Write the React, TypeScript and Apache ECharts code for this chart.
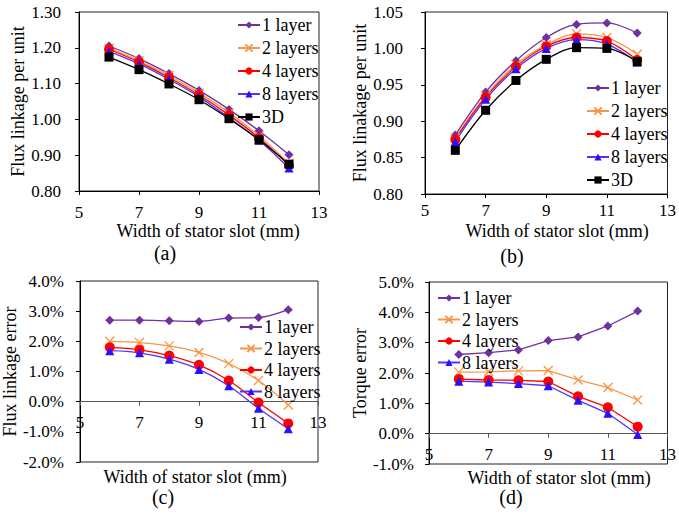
import React, { useEffect, useRef } from "react";
import * as echarts from "echarts";

const widths = [6, 7, 8, 9, 10, 11, 12];
const xTicks = [5, 7, 9, 11, 13];

// (a) flux linkage per unit, panel a
const a1Layer = [1.205, 1.170, 1.128, 1.081, 1.028, 0.968, 0.901];
const a2Layers = [1.199, 1.164, 1.122, 1.074, 1.019, 0.954, 0.877];
const a4Layers = [1.196, 1.160, 1.117, 1.068, 1.012, 0.948, 0.872];
const a8Layers = [1.190, 1.155, 1.112, 1.063, 1.005, 0.942, 0.864];
const a3D = [1.174, 1.139, 1.099, 1.055, 1.002, 0.943, 0.875];

// (b) flux linkage per unit, panel b
const b1Layer = [0.881, 0.940, 0.983, 1.015, 1.033, 1.035, 1.021];
const b2Layers = [0.877, 0.935, 0.978, 1.005, 1.020, 1.015, 0.992];
const b4Layers = [0.875, 0.933, 0.975, 1.003, 1.015, 1.010, 0.984];
const b8Layers = [0.872, 0.930, 0.972, 1.000, 1.012, 1.006, 0.981];
const b3D = [0.860, 0.915, 0.956, 0.985, 1.001, 1.000, 0.982];

// (c) flux linkage error (%)
const c1Layer = [2.70, 2.70, 2.68, 2.66, 2.77, 2.79, 3.05];
const c2Layers = [2.00, 1.96, 1.85, 1.63, 1.26, 0.70, -0.11];
const c4Layers = [1.80, 1.72, 1.53, 1.22, 0.70, -0.03, -0.72];
const c8Layers = [1.69, 1.62, 1.41, 1.07, 0.53, -0.22, -0.90];

// (d) torque error (%)
const d1Layer = [2.61, 2.67, 2.76, 3.07, 3.19, 3.55, 4.04];
const d2Layers = [2.03, 2.04, 2.07, 2.08, 1.77, 1.52, 1.11];
const d4Layers = [1.80, 1.77, 1.76, 1.72, 1.23, 0.87, 0.23];
const d8Layers = [1.73, 1.70, 1.65, 1.58, 1.10, 0.67, -0.03];

const seriesNames = ["1 layer", "2 layers", "4 layers", "8 layers", "3D"];
const panelCaptions = ["(a)", "(b)", "(c)", "(d)"];
const xTitle = "Width of stator slot (mm)";
const yTitles = ["Flux linkage per unit", "Flux linakage per unit", "Flux linkage error", "Torque error"];

const FONT = "'Liberation Serif', 'Times New Roman', 'DejaVu Serif', serif";

const styles: Record<string, any> = {
  "1 layer": { color: "#7030A0", line: "#7030A0", symbol: "diamond", size: 9 },
  "2 layers": { color: "#F79646", line: "#F79646", symbol: "path://M0,0L10,10M10,0L0,10", size: 9, stroke: true },
  "4 layers": { color: "#FF0000", line: "#FF0000", symbol: "circle", size: 10 },
  "8 layers": { color: "#2A10FF", line: "#4F35F5", symbol: "triangle", size: 9 },
  "3D": { color: "#000000", line: "#000000", symbol: "rect", size: 9 },
};

function makeSeries(name: string, values: number[], idx: number, smooth: boolean) {
  const s = styles[name];
  return {
    type: "line",
    name,
    xAxisIndex: idx,
    yAxisIndex: idx,
    data: widths.map((w, i) => [w, values[i]]),
    smooth: smooth ? 0.35 : false,
    symbol: s.symbol,
    symbolSize: s.size,
    showSymbol: true,
    lineStyle: { color: s.line, width: 1.3 },
    itemStyle: s.stroke
      ? { color: s.color, borderColor: s.color, borderWidth: 1.3 }
      : { color: s.color, borderWidth: 0 },
    z: 3,
  };
}

const grids = [
  { left: 79, top: 12, width: 240, height: 179 },
  { left: 425, top: 12, width: 247, height: 182 },
  { left: 79, top: 281, width: 239, height: 181 },
  { left: 429, top: 282, width: 240, height: 182 },
];

const xLabelMargins = [13, 8, 12, 12];

const yRanges = [
  { min: 0.8, max: 1.3, interval: 0.1, fmt: (v: number) => v.toFixed(2), margin: 18, gap: 50 },
  { min: 0.8, max: 1.05, interval: 0.05, fmt: (v: number) => v.toFixed(2), margin: 22, gap: 54 },
  { min: -2, max: 4, interval: 1, fmt: (v: number) => v.toFixed(1) + "%", margin: 16, gap: 54 },
  { min: -1, max: 5, interval: 1, fmt: (v: number) => v.toFixed(1) + "%", margin: 15, gap: 57 },
];

const legendPos = [
  { left: 237, top: 16, gap: 5, names: seriesNames },
  { left: 586, top: 79, gap: 5, names: seriesNames },
  { left: 239, top: 318, gap: 3.5, names: seriesNames.slice(0, 4) },
  { left: 437, top: 289, gap: 3.5, names: seriesNames.slice(0, 4) },
];

const xTitlePos = [
  [208, 231],
  [557, 231],
  [195, 477],
  [559, 478],
];
const captionPos = [
  [165, 253],
  [512, 256],
  [163, 497],
  [511, 497],
];

export default function App() {
  const ref = useRef<HTMLDivElement>(null);
  useEffect(() => {
    if (!ref.current) return;
    const chart = echarts.init(ref.current, null, { renderer: "svg" });
    const series = [
      makeSeries("1 layer", a1Layer, 0, true),
      makeSeries("2 layers", a2Layers, 0, true),
      makeSeries("4 layers", a4Layers, 0, true),
      makeSeries("8 layers", a8Layers, 0, true),
      makeSeries("3D", a3D, 0, true),
      makeSeries("1 layer", b1Layer, 1, true),
      makeSeries("2 layers", b2Layers, 1, true),
      makeSeries("4 layers", b4Layers, 1, true),
      makeSeries("8 layers", b8Layers, 1, true),
      makeSeries("3D", b3D, 1, true),
      makeSeries("1 layer", c1Layer, 2, true),
      makeSeries("2 layers", c2Layers, 2, true),
      makeSeries("4 layers", c4Layers, 2, true),
      makeSeries("8 layers", c8Layers, 2, true),
      makeSeries("1 layer", d1Layer, 3, false),
      makeSeries("2 layers", d2Layers, 3, false),
      makeSeries("4 layers", d4Layers, 3, false),
      makeSeries("8 layers", d8Layers, 3, false),
    ];
    // For panels whose y range spans zero, the x axis (line, ticks, labels) sits on y = 0
    const zeroOffset = (i: number) => {
      const r = yRanges[i];
      if (r.min >= 0) return 0;
      return -grids[i].height * ((0 - r.min) / (r.max - r.min));
    };
    const option: any = {
      animation: false,
      backgroundColor: "#ffffff",
      textStyle: { fontFamily: FONT },
      grid: grids.map((g) => ({ ...g, show: true, borderColor: "#222", borderWidth: 1, backgroundColor: "transparent" })),
      xAxis: grids.map((_, i) => ({
        type: "value",
        gridIndex: i,
        position: "bottom",
        offset: zeroOffset(i),
        min: xTicks[0],
        max: xTicks[xTicks.length - 1],
        interval: 2,
        splitLine: { show: false },
        axisLine: { onZero: false, lineStyle: { color: i >= 2 ? "#555" : "#000", width: 1 } },
        axisTick: { show: true, length: 4, inside: false, lineStyle: { color: i >= 2 ? "#555" : "#000" } },
        axisLabel: { color: "#000", fontSize: 17, fontFamily: FONT, margin: xLabelMargins[i], showMinLabel: true, showMaxLabel: true },
      })),
      yAxis: grids.map((_, i) => ({
        type: "value",
        gridIndex: i,
        min: yRanges[i].min,
        max: yRanges[i].max,
        interval: yRanges[i].interval,
        splitLine: { show: false },
        axisLine: { show: true, onZero: false, lineStyle: { color: "#000", width: 1 } },
        axisTick: { show: true, length: 4, lineStyle: { color: "#000" } },
        axisLabel: { color: "#000", fontSize: 17, fontFamily: FONT, margin: yRanges[i].margin, formatter: yRanges[i].fmt },
        name: yTitles[i],
        nameLocation: "middle",
        nameGap: yRanges[i].gap,
        nameTextStyle: { color: "#000", fontSize: 18, fontFamily: FONT },
      })),
      legend: legendPos.map((l) => ({
        left: l.left,
        top: l.top,
        orient: "vertical",
        itemGap: l.gap,
        itemWidth: 22,
        itemHeight: 9,
        padding: 0,
        data: l.names,
        selectedMode: false,
        textStyle: { color: "#000", fontSize: 18, fontFamily: FONT, padding: [0, 0, 0, -3] },
      })),
      graphic: [
        ...xTitlePos.map(([x, y]) => ({
          type: "text",
          x,
          y,
          style: { text: xTitle, fill: "#000", font: `18px ${FONT}`, textAlign: "center", textVerticalAlign: "middle" },
        })),
        ...captionPos.map(([x, y], i) => ({
          type: "text",
          x,
          y,
          style: { text: panelCaptions[i], fill: "#000", font: `20px ${FONT}`, textAlign: "center", textVerticalAlign: "middle" },
        })),
      ],
      series,
    };
    chart.setOption(option);
    return () => chart.dispose();
  }, []);
  return <div ref={ref} style={{ width: 679, height: 515, position: "absolute", left: 0, top: 0 }} />;
}
